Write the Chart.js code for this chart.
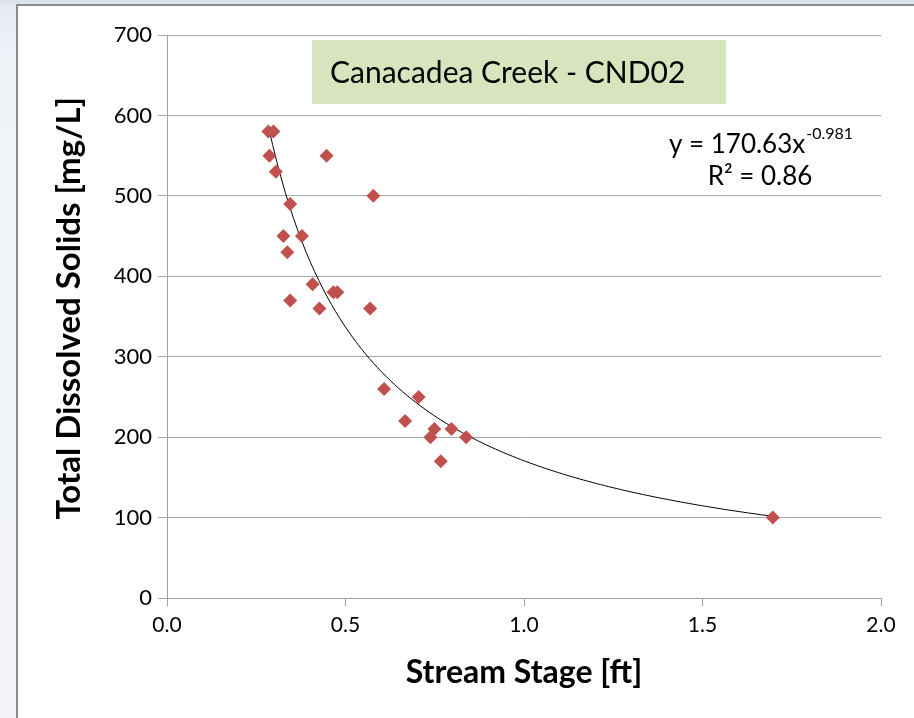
<!DOCTYPE html>
<html>
<head>
<meta charset="utf-8">
<script src="https://cdn.jsdelivr.net/npm/chart.js@4.4.1/dist/chart.umd.min.js"></script>
<style>
  html, body { margin: 0; padding: 0; }
  body {
    width: 914px; height: 718px; overflow: hidden; position: relative;
    background: linear-gradient(#d8dfe9 0px, #e6eaf1 5px, #eff2f7 60px, #f2f4f8 100%);
  }
  #frame {
    position: absolute; left: 16px; top: 4px; right: -10px; bottom: -10px;
    background: #fff; border-left: 2px solid #8c8c8c; border-top: 2px solid #8c8c8c;
  }
  #wrap { position: absolute; left: 0; top: 0; width: 914px; height: 718px; }
</style>
</head>
<body>
<div id="frame"></div>
<div id="wrap"><canvas id="chart-1" width="914" height="718"></canvas></div>
<script>
// measured samples: stream stage [ft] vs total dissolved solids [mg/L]
const stage = [0.284, 0.298, 0.287, 0.305, 0.447, 0.578, 0.345, 0.326, 0.378, 0.337,
               0.408, 0.466, 0.477, 0.345, 0.427, 0.569, 0.608, 0.705, 0.667, 0.749,
               0.738, 0.797, 0.838, 0.767, 1.697];
const tds = [580, 580, 550, 530, 550, 500, 490, 450, 450, 430,
             390, 380, 380, 370, 360, 360, 260, 250, 220, 210,
             200, 210, 200, 170, 100];

// power trendline shown on the chart: y = 170.63 x^-0.981
const fitA = 170.63;
const fitB = -0.981;
const fitR2 = 0.86;

const xTicks = [0, 0.5, 1.0, 1.5, 2.0];
const yTicks = [0, 100, 200, 300, 400, 500, 600, 700];

const chartTitle = 'Canacadea Creek - CND02';
const xTitle = 'Stream Stage [ft]';
const yTitle = '\u2002Total Dissolved Solids [mg/L]';

const FONT = 'Lato';

const points = stage.map((x, i) => ({ x: x, y: tds[i] }));

const xMin = Math.min(...stage), xMax = Math.max(...stage);
const trend = [];
for (let i = 0; i <= 120; i++) {
  const x = xMin + (xMax - xMin) * i / 120;
  trend.push({ x: x, y: fitA * Math.pow(x, fitB) });
}

const overlay = {
  id: 'overlay',
  afterDraw(chart) {
    const c = chart.ctx;
    c.save();
    // title box
    c.fillStyle = '#d7e4bd';
    c.fillRect(312, 40, 414, 64);
    c.fillStyle = '#000';
    c.font = '30px ' + FONT;
    c.textBaseline = 'middle';
    c.textAlign = 'left';
    c.fillText(chartTitle, 330, 73);

    // equation, centred on x = 761
    c.textBaseline = 'alphabetic';
    const main = 'y = ' + fitA.toFixed(2) + 'x';
    const sup = fitB.toFixed(3);
    c.font = '26px ' + FONT;
    const w1 = c.measureText(main).width;
    c.font = '16px ' + FONT;
    const w2 = c.measureText(sup).width;
    const x0 = 761 - (w1 + w2 + 1) / 2;
    c.font = '26px ' + FONT;
    c.fillText(main, x0, 153);
    c.font = '16px ' + FONT;
    c.fillText(sup, x0 + w1 + 1, 139);
    c.font = '26px ' + FONT;
    c.textAlign = 'center';
    c.fillText('R\u00b2 = ' + fitR2.toFixed(2), 760, 185);
    c.restore();
  }
};

new Chart(document.getElementById('chart-1'), {
  type: 'scatter',
  data: {
    datasets: [{
      label: 'TDS',
      data: points,
      pointStyle: 'rectRot',
      pointRadius: 7,
      backgroundColor: '#c0504d',
      borderColor: '#c0504d',
      borderWidth: 0,
      order: 1
    }, {
      label: 'Power fit',
      type: 'line',
      data: trend,
      borderColor: '#000',
      borderWidth: 1,
      pointRadius: 0,
      fill: false,
      order: 2
    }]
  },
  options: {
    responsive: false,
    animation: false,
    layout: { padding: { top: 35, right: 33, left: 0, bottom: 0 } },
    plugins: {
      legend: { display: false },
      tooltip: { enabled: false }
    },
    scales: {
      x: {
        type: 'linear',
        min: 0, max: 2,
        afterBuildTicks: s => { s.ticks = xTicks.map(v => ({ value: v })); },
        afterFit: s => { s.height = 120; },
        ticks: {
          callback: v => v.toFixed(1),
          font: { family: FONT, size: 21 },
          color: '#000',
          padding: 7,
          maxRotation: 0
        },
        grid: { drawOnChartArea: false, drawTicks: true, tickLength: 8, color: '#a0a0a0' },
        border: { color: '#a0a0a0', width: 1 },
        title: {
          display: true, text: xTitle, color: '#000',
          font: { family: FONT, size: 32, weight: 'bold' },
          padding: { top: 10, bottom: 26 }
        }
      },
      y: {
        min: 0, max: 700,
        afterBuildTicks: s => { s.ticks = yTicks.map(v => ({ value: v })); },
        afterFit: s => { s.width = 167; },
        ticks: {
          font: { family: FONT, size: 22 },
          color: '#000',
          padding: 6
        },
        grid: { color: '#a6a6a6', lineWidth: 1, tickLength: 9 },
        border: { color: '#a0a0a0', width: 1 },
        title: {
          display: true, text: yTitle, color: '#000',
          font: { family: FONT, size: 33, weight: 'bold' },
          padding: { top: 50, bottom: 0 }
        }
      }
    }
  },
  plugins: [overlay]
});
</script>
</body>
</html>
